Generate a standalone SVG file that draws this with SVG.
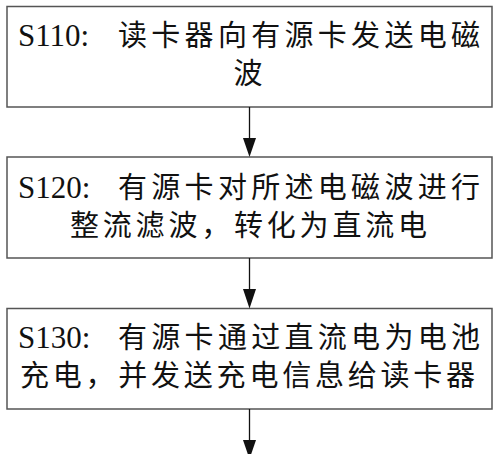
<svg xmlns="http://www.w3.org/2000/svg" width="500" height="454" viewBox="0 0 500 454">
<defs>
<style>
.box{fill:#fff;stroke:#555;stroke-width:1.5}
.t{font-family:"Liberation Serif","Noto Sans CJK SC",serif;font-size:29px;fill:#111}
.n{font-family:"Liberation Serif",serif;font-size:31px;fill:#111}
.c{stroke:#111;stroke-width:1.3;fill:none}
.ah{fill:#111}
</style>
</defs>
<rect width="500" height="454" fill="#fff"/>
<g id="s110">
<rect class="box" x="7" y="6.5" width="485" height="100.5"/>
<text class="n" x="18" y="46">S110:</text>
<text class="t" x="118" y="46" textLength="362" lengthAdjust="spacing">读卡器向有源卡发送电磁</text>
<text class="t" x="248" y="84" text-anchor="middle">波</text>
</g>
<g id="s120">
<rect class="box" x="7" y="157" width="485" height="101"/>
<text class="n" x="18" y="198">S120:</text>
<text class="t" x="118" y="198" textLength="362" lengthAdjust="spacing">有源卡对所述电磁波进行</text>
<text class="t" x="70" y="236" textLength="357" lengthAdjust="spacing">整流滤波，转化为直流电</text>
</g>
<g id="s130">
<rect class="box" x="7" y="308.5" width="485" height="100.5"/>
<text class="n" x="18" y="348">S130:</text>
<text class="t" x="118" y="348" textLength="362" lengthAdjust="spacing">有源卡通过直流电为电池</text>
<text class="t" x="20" y="386" textLength="455" lengthAdjust="spacing">充电，并发送充电信息给读卡器</text>
</g>
<g id="connectors">
<line class="c" x1="249.5" y1="107" x2="249.5" y2="140"/>
<polygon class="ah" points="243,138 256,138 249.5,157"/>
<line class="c" x1="249.5" y1="258" x2="249.5" y2="290"/>
<polygon class="ah" points="243,289 256,289 249.5,308.5"/>
<line class="c" x1="249.5" y1="409" x2="249.5" y2="442"/>
<polygon class="ah" points="243,440 256,440 249.5,459"/>
</g>
</svg>
